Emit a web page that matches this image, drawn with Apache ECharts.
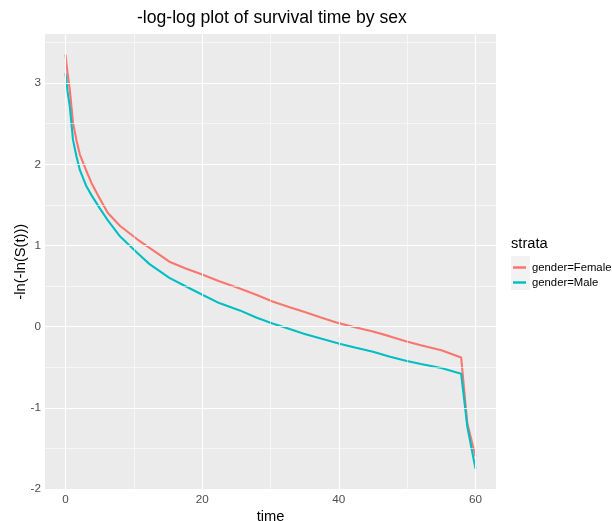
<!DOCTYPE html>
<html>
<head>
<meta charset="utf-8">
<script src="https://cdn.jsdelivr.net/npm/echarts@6/dist/echarts.min.js"></script>
<style>html,body{margin:0;padding:0;background:#fff;}#c{width:612px;height:521px;}</style>
</head>
<body>
<div id="c"></div>
<script>
const times = [0, 0.3, 0.63, 1.1, 1.6, 2.1, 3, 3.8, 5, 6.2, 8, 10.6, 12.3, 15.2, 17.5, 20.1, 22.5, 25.5, 28, 30.3, 32.8, 35, 37.5, 40.1, 42.5, 45, 47.5, 49.8, 52, 55, 57.9, 58.8, 60];
const female = [3.35, 3.12, 2.92, 2.51, 2.30, 2.12, 1.93, 1.77, 1.58, 1.40, 1.24, 1.07, 0.97, 0.80, 0.72, 0.64, 0.56, 0.47, 0.39, 0.31, 0.24, 0.18, 0.11, 0.04, -0.01, -0.06, -0.12, -0.18, -0.23, -0.29, -0.38, -1.19, -1.60];
const male = [3.12, 2.90, 2.71, 2.30, 2.10, 1.93, 1.74, 1.62, 1.46, 1.31, 1.11, 0.90, 0.77, 0.60, 0.50, 0.39, 0.29, 0.20, 0.11, 0.04, -0.03, -0.09, -0.15, -0.21, -0.26, -0.31, -0.37, -0.42, -0.46, -0.51, -0.58, -1.23, -1.75];
const xTicks = [0, 20, 40, 60];
const xMinor = [10, 30, 50];
const yTicks = [-2, -1, 0, 1, 2, 3];
const yMinor = [-1.5, -0.5, 0.5, 1.5, 2.5, 3.5];
const seriesNames = ['gender=Female', 'gender=Male'];
const colors = ['#F8766D', '#00BFC4'];

const font = 'Liberation Sans, Arial, sans-serif';
const pair = arr => times.map((t, i) => [t, arr[i]]);

const gridLines = [];
xTicks.forEach(v => gridLines.push({xAxis: v, lineStyle: {color: '#fff', width: 1.1, type: 'solid'}}));
xMinor.forEach(v => gridLines.push({xAxis: v, lineStyle: {color: '#fff', width: 0.55, type: 'solid'}}));
yTicks.forEach(v => gridLines.push({yAxis: v, lineStyle: {color: '#fff', width: 1.1, type: 'solid'}}));
yMinor.forEach(v => gridLines.push({yAxis: v, lineStyle: {color: '#fff', width: 0.55, type: 'solid'}}));

const chart = echarts.init(document.getElementById('c'), null, {renderer: 'canvas'});
chart.setOption({
  animation: false,
  backgroundColor: '#fff',
  title: {
    text: '-log-log plot of survival time by sex',
    left: 137, top: 9, padding: 0,
    textStyle: {fontFamily: font, fontSize: 17.6, fontWeight: 'normal', color: '#000'}
  },
  grid: {left: 45, right: 116, top: 34, bottom: 31.6, show: true, backgroundColor: '#ebebeb', borderWidth: 0,
         containLabel: false, outerBoundsMode: 'none'},
  xAxis: {
    type: 'value', min: -3, max: 63,
    name: 'time', nameLocation: 'middle', nameGap: 20, nameMoveOverlap: false,
    nameTextStyle: {fontFamily: font, fontSize: 14.7, color: '#000', verticalAlign: 'top'},
    axisLine: {show: false},
    axisTick: {show: true, length: 3, lineStyle: {color: '#333', width: 1}, customValues: xTicks},
    axisLabel: {customValues: xTicks, margin: 4, fontFamily: font, fontSize: 11.7, color: '#4d4d4d'},
    splitLine: {show: false}
  },
  yAxis: {
    type: 'value', min: -2.005, max: 3.605,
    name: '-ln(-ln(S(t)))', nameLocation: 'middle', nameGap: 17, nameRotate: 90, nameMoveOverlap: false,
    nameTextStyle: {fontFamily: font, fontSize: 14.7, color: '#000'},
    axisLine: {show: false},
    axisTick: {show: true, length: 3, lineStyle: {color: '#333', width: 1}, customValues: yTicks},
    axisLabel: {customValues: yTicks, margin: 4, fontFamily: font, fontSize: 11.7, color: '#4d4d4d'},
    splitLine: {show: false}
  },
  legend: {
    data: seriesNames.map(n => ({name: n, icon: 'rect'})),
    orient: 'vertical', left: 513, top: 262, padding: 0,
    itemWidth: 13, itemHeight: 2.5, itemGap: 4,
    textStyle: {fontFamily: font, fontSize: 11.3, color: '#000', padding: [0, 0, 0, 1]}
  },
  graphic: [
    {type: 'rect', left: 511, top: 256, shape: {width: 19, height: 34}, style: {fill: '#f2f2f2'}, z: -1},
    {type: 'text', left: 511, top: 236, style: {text: 'strata', font: '14.7px ' + font, fill: '#000'}}
  ],
  series: [
    {name: 'grid', type: 'line', data: [[0, 0]], symbol: 'none', lineStyle: {opacity: 0}, z: 1, silent: true,
     markLine: {silent: true, symbol: 'none', label: {show: false}, animation: false, data: gridLines}},
    {name: seriesNames[0], type: 'line', data: pair(female), symbol: 'none', showSymbol: false, z: 3,
     color: colors[0], lineStyle: {color: colors[0], width: 2.1}},
    {name: seriesNames[1], type: 'line', data: pair(male), symbol: 'none', showSymbol: false, z: 3,
     color: colors[1], lineStyle: {color: colors[1], width: 2.1}}
  ]
});
</script>
</body>
</html>
